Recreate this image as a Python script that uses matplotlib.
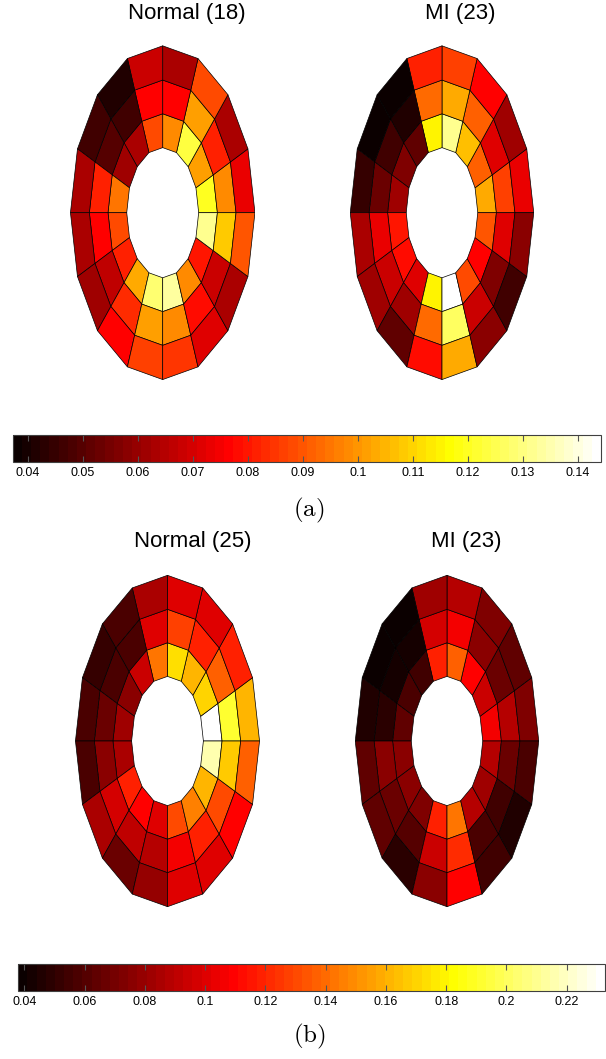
import numpy as np
import matplotlib.pyplot as plt
from matplotlib.collections import PolyCollection
from matplotlib.colors import Normalize
from matplotlib.cm import ScalarMappable
from matplotlib.ticker import FormatStrFormatter

plt.rcParams['font.family'] = ['Liberation Sans', 'DejaVu Sans']
plt.rcParams['mathtext.fontset'] = 'cm'

# 16 sectors per ring, counter-clockwise starting at 3 o'clock
normal_a_inner = [0.120, 0.102, 0.124, 0.099, 0.089, 0.063, 0.061, 0.095, 0.089, 0.081, 0.103, 0.129, 0.133, 0.099, 0.080, 0.131]
normal_a_middle = [0.099, 0.081, 0.101, 0.076, 0.077, 0.047, 0.050, 0.081, 0.076, 0.066, 0.084, 0.101, 0.099, 0.079, 0.069, 0.109]
normal_a_outer = [0.074, 0.064, 0.088, 0.064, 0.068, 0.041, 0.047, 0.064, 0.064, 0.061, 0.076, 0.086, 0.085, 0.072, 0.064, 0.090]

mi_a_inner = [0.104, 0.092, 0.107, 0.131, 0.115, 0.051, 0.056, 0.061, 0.080, 0.079, 0.072, 0.115, 0.144, 0.089, 0.077, 0.090]
mi_a_middle = [0.087, 0.072, 0.092, 0.104, 0.094, 0.042, 0.047, 0.054, 0.073, 0.069, 0.061, 0.094, 0.126, 0.068, 0.056, 0.072]
mi_a_outer = [0.073, 0.061, 0.076, 0.087, 0.081, 0.0373, 0.0373, 0.045, 0.063, 0.061, 0.051, 0.079, 0.104, 0.059, 0.047, 0.058]

normal_b_inner = [0.233, 0.170, 0.160, 0.174, 0.142, 0.093, 0.077, 0.082, 0.084, 0.118, 0.109, 0.100, 0.132, 0.146, 0.160, 0.217]
normal_b_middle = [0.193, 0.137, 0.118, 0.128, 0.100, 0.058, 0.058, 0.068, 0.077, 0.096, 0.091, 0.087, 0.105, 0.118, 0.132, 0.167]
normal_b_outer = [0.160, 0.118, 0.100, 0.100, 0.084, 0.058, 0.053, 0.058, 0.058, 0.084, 0.068, 0.080, 0.100, 0.100, 0.109, 0.137]

mi_b_inner = [0.105, 0.093, 0.109, 0.137, 0.118, 0.054, 0.058, 0.063, 0.077, 0.077, 0.072, 0.118, 0.144, 0.087, 0.082, 0.087]
mi_b_middle = [0.087, 0.068, 0.077, 0.105, 0.096, 0.042, 0.042, 0.049, 0.077, 0.068, 0.061, 0.093, 0.123, 0.058, 0.056, 0.068]
mi_b_outer = [0.072, 0.063, 0.074, 0.087, 0.082, 0.038, 0.038, 0.047, 0.063, 0.065, 0.049, 0.077, 0.109, 0.054, 0.047, 0.058]

ticks_a = [0.04, 0.05, 0.06, 0.07, 0.08, 0.09, 0.1, 0.11, 0.12, 0.13, 0.14]
ticks_b = [0.04, 0.06, 0.08, 0.1, 0.12, 0.14, 0.16, 0.18, 0.2, 0.22]

W, H = 606, 1059
fig = plt.figure(figsize=(W / 100, H / 100), dpi=100)
cmap = plt.get_cmap('hot', 64)
radii = [0.39, 0.593, 0.795, 1.0]


def px_axes(cx, cy, hw, hh):
    # axes given by centre and half sizes in pixels (y measured from top)
    return fig.add_axes([(cx - hw) / W, 1 - (cy + hh) / H, 2 * hw / W, 2 * hh / H])


def bullseye(cx, cy, hw, hh, rings, norm):
    ax = px_axes(cx, cy, hw, hh)
    polys, vals = [], []
    ang = np.linspace(0, 2 * np.pi, 17)
    for i, ring in enumerate(rings):
        r0, r1 = radii[i], radii[i + 1]
        for k, v in enumerate(ring):
            a0, a1 = ang[k], ang[k + 1]
            polys.append([(r0 * np.cos(a0), r0 * np.sin(a0)),
                          (r1 * np.cos(a0), r1 * np.sin(a0)),
                          (r1 * np.cos(a1), r1 * np.sin(a1)),
                          (r0 * np.cos(a1), r0 * np.sin(a1))])
            vals.append(v)
    pc = PolyCollection(polys, array=np.array(vals), cmap=cmap, norm=norm,
                        edgecolors='black', linewidths=0.5)
    ax.add_collection(pc)
    ax.set_xlim(-1.005, 1.005)
    ax.set_ylim(-1.005, 1.005)
    ax.axis('off')


def colorbar(x0, x1, y0, y1, norm, ticks):
    cax = fig.add_axes([x0 / W, 1 - y1 / H, (x1 - x0) / W, (y1 - y0) / H])
    cb = fig.colorbar(ScalarMappable(norm=norm, cmap=cmap), cax=cax, orientation='horizontal')
    cb.set_ticks(ticks)
    cb.ax.xaxis.set_major_formatter(FormatStrFormatter('%g'))
    cb.ax.tick_params(axis='x', direction='in', top=True, bottom=True, length=4,
                      width=0.8, color='#555555', labelsize=9, pad=4)
    cb.outline.set_linewidth(0.8)
    cb.outline.set_edgecolor('#404040')


norm_a = Normalize(0.0373, 0.1442)
norm_b = Normalize(0.038, 0.2327)

bullseye(162.7, 212.7, 92.7, 167.7, [normal_a_inner, normal_a_middle, normal_a_outer], norm_a)
bullseye(442, 212.7, 92.2, 167.7, [mi_a_inner, mi_a_middle, mi_a_outer], norm_a)
bullseye(167.5, 741, 92.5, 166.5, [normal_b_inner, normal_b_middle, normal_b_outer], norm_b)
bullseye(447, 741, 92.2, 166.5, [mi_b_inner, mi_b_middle, mi_b_outer], norm_b)

fig.text(187 / W, 1 - 14 / H, 'Normal (18)', ha='center', va='center', fontsize=16)
fig.text(460 / W, 1 - 14 / H, 'MI (23)', ha='center', va='center', fontsize=16)
fig.text(192.5 / W, 1 - 542 / H, 'Normal (25)', ha='center', va='center', fontsize=16)
fig.text(466 / W, 1 - 542 / H, 'MI (23)', ha='center', va='center', fontsize=16)

colorbar(12.7, 601, 435, 461.7, norm_a, ticks_a)
colorbar(18.3, 605, 964, 990.7, norm_b, ticks_b)

fig.text(309 / W, 1 - 510 / H, r'$\mathrm{(a)}$', ha='center', va='center', fontsize=18)
fig.text(309 / W, 1 - 1036 / H, r'$\mathrm{(b)}$', ha='center', va='center', fontsize=18)

fig.savefig('out.png', dpi=100)
